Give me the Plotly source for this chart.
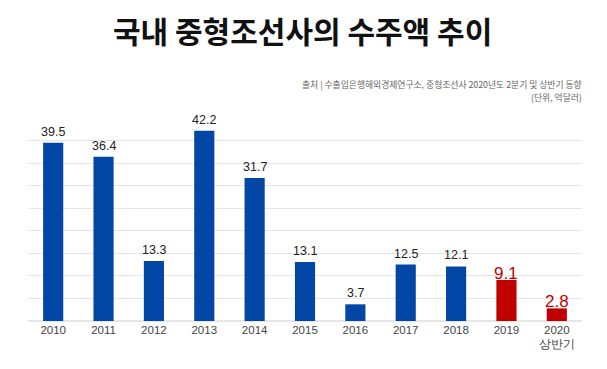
import plotly.graph_objects as go

categories = ["2010", "2011", "2012", "2013", "2014", "2015", "2016", "2017", "2018", "2019", "2020<br>상반기"]
values = [39.5, 36.4, 13.3, 42.2, 31.7, 13.1, 3.7, 12.5, 12.1, 9.1, 2.8]
highlight = [False] * 9 + [True, True]

BLUE = "#0246a6"
RED = "#c00000"
colors = [RED if h else BLUE for h in highlight]

fig = go.Figure()
fig.add_trace(go.Bar(
    x=categories, y=values, marker=dict(color=colors, line=dict(width=0)),
    hoverinfo="x+y",
))

for i, (v, h) in enumerate(zip(values, highlight)):
    fig.add_annotation(
        x=i, y=v, text=f"{v:.1f}", showarrow=False, yanchor="bottom",
        yshift=-5 if h else 2,
        font=dict(family="Liberation Sans Narrow, Liberation Sans, sans-serif",
                  size=17 if h else 12.5, color=RED if h else "#222222"),
    )

fig.add_annotation(
    xref="paper", yref="paper", x=0.5, xshift=-3, y=1, yshift=88, xanchor="center", yanchor="middle",
    text="<b>국내 중형조선사의 수주액 추이</b>", showarrow=False, borderpad=0,
    font=dict(family="Noto Sans CJK KR", size=30, color="#111111", weight=900),
)
fig.add_annotation(
    xref="paper", yref="paper", x=1.0, xshift=2, y=1, yshift=34, xanchor="right", yanchor="middle",
    text="출처 | 수출입은행해외경제연구소, 중형조선사 2020년도 2분기 및 상반기 동향",
    showarrow=False, font=dict(family="Noto Sans CJK KR", size=8.8, color="#666666"),
)
fig.add_annotation(
    xref="paper", yref="paper", x=1.0, xshift=2, y=1, yshift=21, xanchor="right", yanchor="middle",
    text="(단위, 억달러)",
    showarrow=False, font=dict(family="Noto Sans CJK KR", size=8.8, color="#666666"),
)

fig.update_layout(
    width=599, height=361,
    margin=dict(l=20, r=25, t=110, b=48),
    paper_bgcolor="white", plot_bgcolor="white",
    showlegend=False, bargap=0.6,
    xaxis=dict(type="category", range=[-0.5, len(categories) - 0.5],
               showgrid=False, showline=False, ticks="",
               tickfont=dict(family="Liberation Sans Narrow, Liberation Sans, sans-serif", size=11.5, color="#444444")),
    yaxis=dict(range=[0, 45], dtick=5, showgrid=True, gridcolor="#e6e6e6", gridwidth=1,
               showticklabels=False, zeroline=True, zerolinecolor="#e6e6e6", ticks=""),
)

fig.write_html("out.html")
